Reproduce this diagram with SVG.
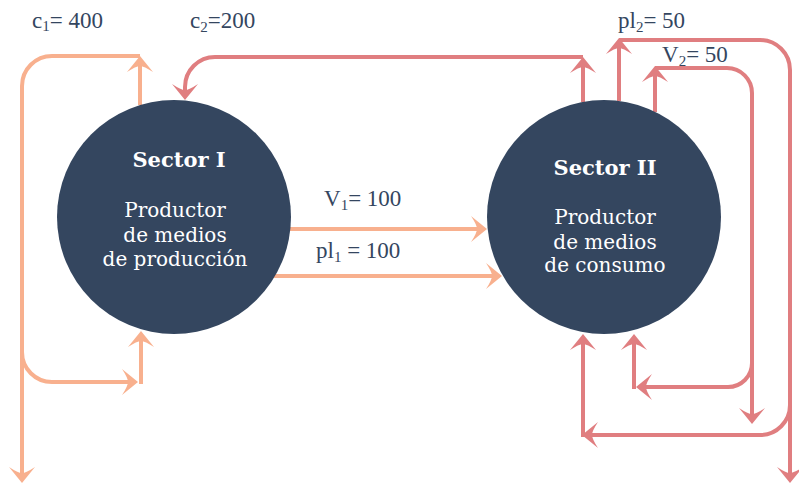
<svg xmlns="http://www.w3.org/2000/svg" width="799" height="484" viewBox="0 0 799 484">
  <style>
    .flow { fill: none; stroke-width: 4; }
    .c1 { stroke: #f8b08e; }
    .c2 { stroke: #e07e80; }
    .node { fill: #34465f; }
    .title { font-family: "DejaVu Serif", serif; font-weight: bold; font-size: 21px; fill: #ffffff; text-anchor: middle; }
    .body { font-family: "DejaVu Serif", serif; font-size: 20px; fill: #ffffff; text-anchor: middle; }
    .lbl { font-family: "Liberation Serif", serif; font-size: 23px; fill: #34465f; }
    .sub { font-size: 15px; }
  </style>
  <defs>
    <!-- swept arrowheads: notch at the path end, tip 10 units ahead -->
    <marker id="headOrange" markerUnits="userSpaceOnUse" orient="auto" overflow="visible" refX="0" refY="0">
      <path d="M10,0 L-6,-13 Q0,-4 0,0 Q0,4 -6,13 Z" fill="#f8b08e"/>
    </marker>
    <marker id="headRed" markerUnits="userSpaceOnUse" orient="auto" overflow="visible" refX="0" refY="0">
      <path d="M10,0 L-6,-13 Q0,-4 0,0 Q0,4 -6,13 Z" fill="#e07e80"/>
    </marker>
  </defs>

  <g id="connectors">
    <!-- Sector I constant capital loop -->
    <path class="flow c1" d="M140,105 L140,66" marker-end="url(#headOrange)"/>
    <path class="flow c1" d="M140,56 L52,56 A30,30 0 0 0 22,86 L22,473" marker-end="url(#headOrange)"/>
    <path class="flow c1" d="M22,352 A30,30 0 0 0 52,382 L128,382" marker-end="url(#headOrange)"/>
    <path class="flow c1" d="M141,384 L141,341" marker-end="url(#headOrange)"/>

    <!-- exchanges from Sector I to Sector II -->
    <path class="flow c1" d="M290,229 L477,229" marker-end="url(#headOrange)"/>
    <path class="flow c1" d="M273,276 L492,276" marker-end="url(#headOrange)"/>

    <!-- c2 back to Sector I -->
    <path class="flow c2" d="M583,102 L583,67" marker-end="url(#headRed)"/>
    <path class="flow c2" d="M583,57 L215,57 A30,30 0 0 0 185,87 L185,90" marker-end="url(#headRed)"/>

    <!-- pl2 loop -->
    <path class="flow c2" d="M619,101 L619,48" marker-end="url(#headRed)"/>
    <path class="flow c2" d="M619,40 L760,40 A30,30 0 0 1 790,70 L790,473" marker-end="url(#headRed)"/>
    <path class="flow c2" d="M790,405 A30,30 0 0 1 760,435 L592,435" marker-end="url(#headRed)"/>
    <path class="flow c2" d="M583,437 L583,344" marker-end="url(#headRed)"/>

    <!-- V2 loop -->
    <path class="flow c2" d="M655,112 L655,76" marker-end="url(#headRed)"/>
    <path class="flow c2" d="M655,68 L727,68 A25,25 0 0 1 752,93 L752,414" marker-end="url(#headRed)"/>
    <path class="flow c2" d="M752,363 A24,24 0 0 1 728,387 L646,387" marker-end="url(#headRed)"/>
    <path class="flow c2" d="M634,389 L634,344" marker-end="url(#headRed)"/>
  </g>

  <g id="labels">
    <text class="lbl" x="32" y="28">c<tspan class="sub" dy="3">1</tspan><tspan dy="-3">= 400</tspan></text>
    <text class="lbl" x="190" y="28">c<tspan class="sub" dy="4">2</tspan><tspan dy="-4">=200</tspan></text>
    <text class="lbl" x="618" y="28">pl<tspan class="sub" dy="4">2</tspan><tspan dy="-4">= 50</tspan></text>
    <text class="lbl" x="662" y="62">V<tspan class="sub" dy="4">2</tspan><tspan dy="-4">= 50</tspan></text>
    <text class="lbl" x="324" y="206">V<tspan class="sub" dy="4">1</tspan><tspan dy="-4">= 100</tspan></text>
    <text class="lbl" x="316" y="258">pl<tspan class="sub" dy="4">1</tspan><tspan dy="-4"> = 100</tspan></text>
  </g>

  <g id="sector1">
    <circle class="node" cx="174" cy="217" r="117"/>
    <text class="title" x="179" y="167">Sector I</text>
    <text class="body" x="175" y="217">Productor</text>
    <text class="body" x="175" y="242">de medios</text>
    <text class="body" x="175" y="266">de producción</text>
  </g>

  <g id="sector2">
    <circle class="node" cx="604" cy="217" r="117"/>
    <text class="title" x="605" y="175">Sector II</text>
    <text class="body" x="605" y="224">Productor</text>
    <text class="body" x="605" y="249">de medios</text>
    <text class="body" x="605" y="272">de consumo</text>
  </g>
</svg>
